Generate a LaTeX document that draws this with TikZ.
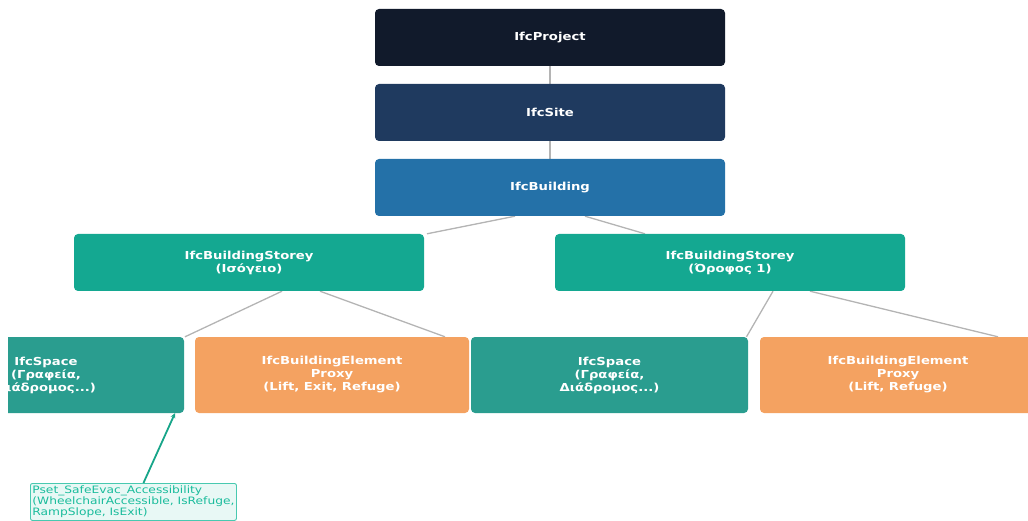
\documentclass[tikz,border=0pt]{standalone}
\usepackage{fontspec}
\setmainfont{DejaVu Sans}
\newfontfamily\boxfont{DejaVu Sans}[FakeStretch=1.2]
\usetikzlibrary{arrows.meta,backgrounds}
\definecolor{cproj}{HTML}{111A2B}
\definecolor{csite}{HTML}{1F3A5F}
\definecolor{cbldg}{HTML}{2471A8}
\definecolor{cstorey}{HTML}{14A891}
\definecolor{cspace}{HTML}{2A9D8F}
\definecolor{cproxy}{HTML}{F4A261}
\definecolor{cline}{HTML}{B4B4B4}
\definecolor{cpsetfill}{HTML}{E8F8F5}
\definecolor{cpsetdraw}{HTML}{48C9B0}
\definecolor{cpsettext}{HTML}{1ABC9C}
\definecolor{cpsetline}{HTML}{17A589}
\tikzset{
  box/.style={rectangle, rounded corners=4pt, text=white, align=center,
    font=\boxfont\bfseries\fontsize{11}{13}\selectfont, inner sep=0pt},
  topbox/.style={box, minimum width=350pt, minimum height=57pt},
  lowbox/.style={box, minimum height=76pt},
  conn/.style={draw=cline, line width=1.3pt},
  psetbox/.style={rectangle, rounded corners=2pt, draw=cpsetdraw, fill=cpsetfill,
    text=cpsettext, line width=0.9pt, align=left, anchor=north west,
    font=\boxfont\fontsize{10.2}{11}\selectfont, minimum width=206pt, minimum height=37pt,
    inner xsep=1.5pt, inner ysep=2.5pt},
  psetconn/.style={draw=cpsetline, line width=1.8pt}
}
\begin{document}
\begin{tikzpicture}[x=1pt,y=-1pt]
\useasboundingbox (0,0) rectangle (1028,521);
\node[topbox, fill=cproj] (proj) at (550,37.5) {IfcProject};
\node[topbox, fill=csite] (site) at (550,112.5) {IfcSite};
\node[topbox, fill=cbldg] (bldg) at (550,187.5) {IfcBuilding};
\node[topbox, fill=cstorey] (sl) at (249,262.5) {IfcBuildingStorey\\(Ισόγειο)};
\node[topbox, fill=cstorey] (sr) at (730,262.5) {IfcBuildingStorey\\(Όροφος 1)};
\begin{scope}
  \clip (8,300) rectangle (200,440);
  \node[lowbox, fill=cspace, minimum width=276pt] (spl) at (46,375) {IfcSpace\\(Γραφεία,\\Διάδρομος...)};
\end{scope}
\node[lowbox, fill=cproxy, minimum width=274pt] (pl) at (332,375) {IfcBuildingElement\\Proxy\\(Lift, Exit, Refuge)};
\node[lowbox, fill=cspace, minimum width=277pt] (spr) at (609.5,375) {IfcSpace\\(Γραφεία,\\Διάδρομος...)};
\begin{scope}
  \clip (700,300) rectangle (1028,440);
  \node[lowbox, fill=cproxy, minimum width=276pt] (pr) at (898,375) {IfcBuildingElement\\Proxy\\(Lift, Refuge)};
\end{scope}
\node[psetbox] (pset) at (30,483) {Pset\_SafeEvac\_Accessibility\\(WheelchairAccessible, IsRefuge,\\RampSlope, IsExit)};
\begin{scope}[on background layer]
  \draw[conn] (proj.south) -- (site.north);
  \draw[conn] (site.south) -- (bldg.north);
  \draw[conn] ([xshift=-35pt]bldg.south) -- ([xshift=178pt]sl.north);
  \draw[conn] ([xshift=35pt]bldg.south) -- ([xshift=-85pt]sr.north);
  \draw[conn] ([xshift=33pt]sl.south) -- ([xshift=139pt]spl.north);
  \draw[conn] ([xshift=71pt]sl.south) -- ([xshift=113pt]pl.north);
  \draw[conn] ([xshift=43pt]sr.south) -- ([xshift=137pt]spr.north);
  \draw[conn] ([xshift=80pt]sr.south) -- ([xshift=100pt]pr.north);
\end{scope}
\draw[psetconn, -{Stealth[length=5pt,width=5pt]}] ([xshift=10pt]pset.north) -- ([xshift=129pt]spl.south);
\end{tikzpicture}
\end{document}
